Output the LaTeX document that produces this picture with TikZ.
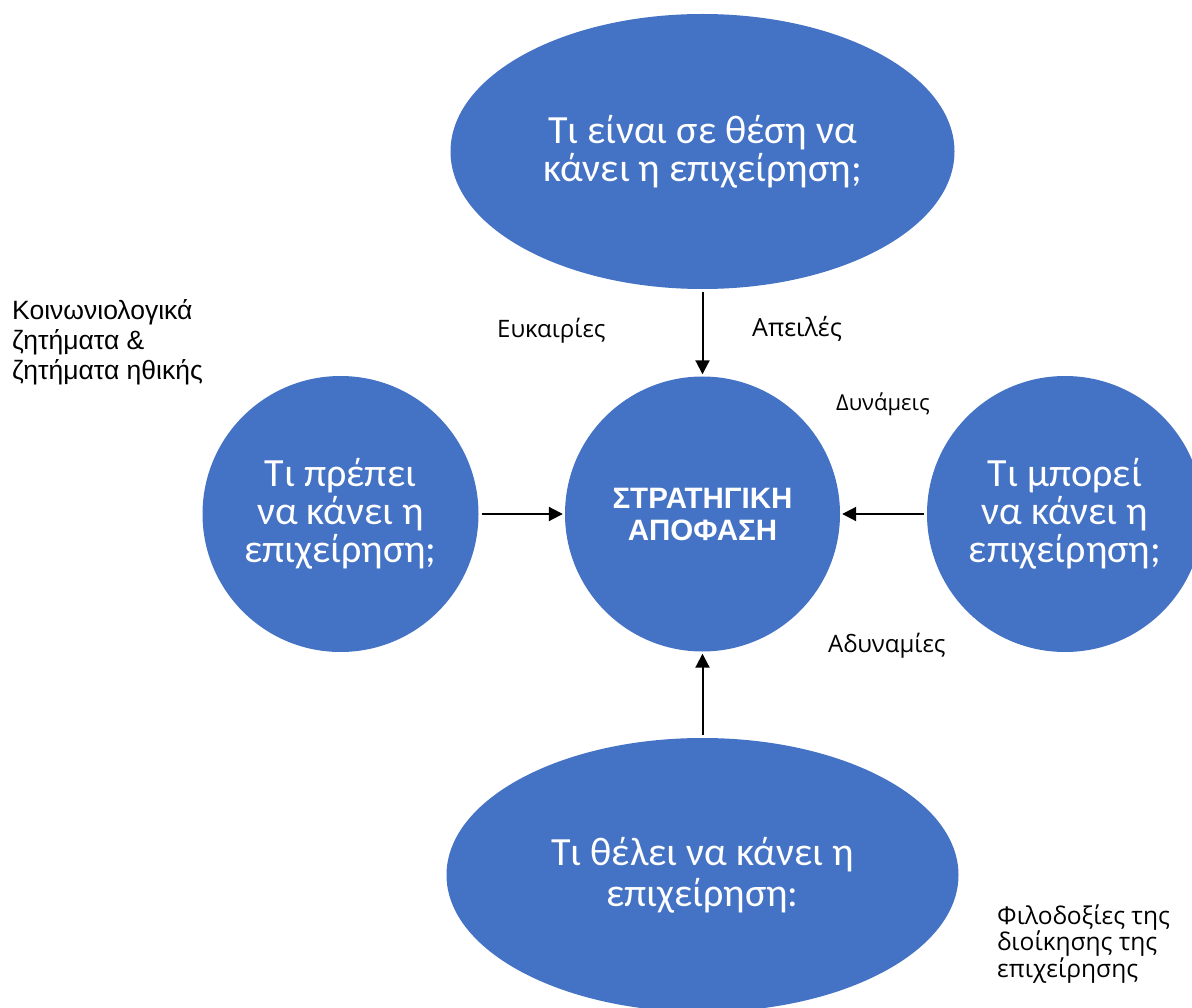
\documentclass[tikz,border=0pt]{standalone}
\usepackage{fontspec}
\setmainfont{Carlito}
\newfontfamily\labfont{Open Sans}
\newfontfamily\arialfont{Liberation Sans}
\usetikzlibrary{arrows.meta,shapes.geometric}
\definecolor{officeblue}{HTML}{4472C4}

\begin{document}
\begin{tikzpicture}[x=1pt,y=-1pt,
  bubble/.style={fill=officeblue, draw=none, text=white, align=center,
    inner sep=0, font=\fontsize{40}{38}\selectfont},
  roundbubble/.style={bubble, circle, minimum size=276},
  ovalbubble/.style={bubble, ellipse, minimum width=504, minimum height=275},
  flow/.style={line width=2pt, -{Triangle[length=14pt,width=14pt]},
    shorten <=3pt, shorten >=2pt},
  sidelabel/.style={anchor=base west, inner sep=0, font=\labfont\fontsize{24}{28}\selectfont},
  notelabel/.style={anchor=west, inner sep=0, align=left}
]
\useasboundingbox (0,0) rectangle (1192,1008);
\clip (0,0) rectangle (1192,1008);

% outer question bubbles
\node[ovalbubble] (able) at (702.5,151.5) {Τι είναι σε θέση να\\κάνει η επιχείρηση;};
\node[roundbubble] (must) at (340.5,514) {Τι πρέπει\\να κάνει η\\επιχείρηση;};
\node[roundbubble] (can) at (1065,514) {Τι μπορεί\\να κάνει η\\επιχείρηση;};
\node[ovalbubble, minimum width=512, minimum height=274,
  font=\fontsize{40}{41}\selectfont] (want) at (702.5,875) {Τι θέλει να κάνει η\\επιχείρηση:};

% SWOT labels (white boxes overlapping the right bubble)
\node[sidelabel] (opp) at (497,338) {Ευκαιρίες};
\node[sidelabel, font=\labfont\fontsize{25}{28}\selectfont] (thr) at (752,337) {Απειλές};
\node[fill=white, inner sep=0, minimum width=152, minimum height=44] (strbox) at (884,403) {};
\node[sidelabel, font=\labfont\fontsize{22}{26}\selectfont] (str) at (836,410) {Δυνάμεις};
\node[fill=white, inner sep=0, minimum width=174, minimum height=58] (weakbox) at (888,647) {};
\node[sidelabel] (weak) at (828,652) {Αδυναμίες};

% central decision
\node[roundbubble, minimum size=275, font=\arialfont\bfseries\fontsize{29.5}{32}\selectfont]
  (dec) at (702.5,514) {ΣΤΡΑΤΗΓΙΚΗ\\ΑΠΟΦΑΣΗ};

% side notes
\node[notelabel, font=\arialfont\fontsize{26.5}{30}\selectfont] (soc) at (12,342)
  {Κοινωνιολογικά\\ζητήματα \&\\ζητήματα ηθικής};
\node[notelabel, font=\labfont\fontsize{24.5}{25.5}\selectfont] (amb) at (997,944)
  {Φιλοδοξίες της\\διοίκησης της\\επιχείρησης};

% connectors into the decision
\draw[flow] (able.south) -- (dec.north);
\draw[flow] (must.east) -- (dec.west);
\draw[flow] (can.west) -- (dec.east);
\draw[flow] (want.north) -- (dec.south);
\end{tikzpicture}
\end{document}
